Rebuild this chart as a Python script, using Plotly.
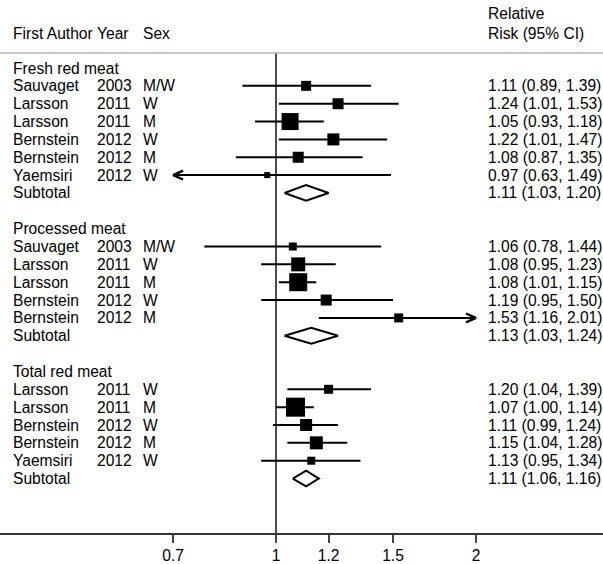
import math
import plotly.graph_objects as go

# ---------------- data ----------------
groups = ["Fresh red meat", "Processed meat", "Total red meat"]
authors = [
    ["Sauvaget", "Larsson", "Larsson", "Bernstein", "Bernstein", "Yaemsiri"],
    ["Sauvaget", "Larsson", "Larsson", "Bernstein", "Bernstein"],
    ["Larsson", "Larsson", "Bernstein", "Bernstein", "Yaemsiri"],
]
years = [
    ["2003", "2011", "2011", "2012", "2012", "2012"],
    ["2003", "2011", "2011", "2012", "2012"],
    ["2011", "2011", "2012", "2012", "2012"],
]
sexes = [
    ["M/W", "W", "M", "W", "M", "W"],
    ["M/W", "W", "M", "W", "M"],
    ["W", "M", "W", "M", "W"],
]
rr = [
    [1.11, 1.24, 1.05, 1.22, 1.08, 0.97],
    [1.06, 1.08, 1.08, 1.19, 1.53],
    [1.20, 1.07, 1.11, 1.15, 1.13],
]
ci_lo = [
    [0.89, 1.01, 0.93, 1.01, 0.87, 0.63],
    [0.78, 0.95, 1.01, 0.95, 1.16],
    [1.04, 1.00, 0.99, 1.04, 0.95],
]
ci_hi = [
    [1.39, 1.53, 1.18, 1.47, 1.35, 1.49],
    [1.44, 1.23, 1.15, 1.50, 2.01],
    [1.39, 1.14, 1.24, 1.28, 1.34],
]
sub_rr = [1.11, 1.13, 1.11]
sub_lo = [1.03, 1.03, 1.06]
sub_hi = [1.20, 1.24, 1.16]
tick_vals = [0.7, 1, 1.2, 1.5, 2]
tick_labels = ["0.7", "1", "1.2", "1.5", "2"]
x_min, x_max = 0.7, 2.0

# ---------------- style ----------------
box_size = [
    [10, 11, 17, 12, 11, 6],
    [8, 14, 18, 11, 9],
    [9, 19, 12, 13, 8],
]
W, H = 603, 564
FONT = "Liberation Sans, Arial, sans-serif"
FS = 15.6
col_author, col_year, col_sex, col_rr = 11, 95, 141, 486
arrow_len = 1.0353      # multiplicative (log) length of arrowhead
arrow_half = 0.25       # rows
dia_half = 0.44         # rows
LW = 2.0

fig = go.Figure()
ann = []


def txt(x_px, y, s):
    ann.append(dict(x=x_px / W, y=y, xref="paper", yref="y", text=s,
                    showarrow=False, xanchor="left", yanchor="middle",
                    font=dict(family=FONT, size=FS, color="black")))


def fmt(e, l, h):
    return f"{e:.2f} ({l:.2f}, {h:.2f})"


row = 0
for g in range(len(groups)):
    txt(col_author, row, groups[g])
    row += 1
    for k in range(len(authors[g])):
        e, l, h = rr[g][k], ci_lo[g][k], ci_hi[g][k]
        l_c, h_c = max(l, x_min), min(h, x_max)
        fig.add_trace(go.Scatter(x=[l_c, h_c], y=[row, row], mode="lines",
                                 line=dict(color="black", width=LW),
                                 hoverinfo="skip", showlegend=False))
        if l < x_min:
            fig.add_trace(go.Scatter(
                x=[l_c * arrow_len, l_c, l_c * arrow_len],
                y=[row - arrow_half, row, row + arrow_half], mode="lines",
                line=dict(color="black", width=2.3), showlegend=False,
                hoverinfo="skip"))
        if h > x_max:
            fig.add_trace(go.Scatter(
                x=[h_c / arrow_len, h_c, h_c / arrow_len],
                y=[row - arrow_half, row, row + arrow_half], mode="lines",
                line=dict(color="black", width=2.3), showlegend=False,
                hoverinfo="skip"))
        fig.add_trace(go.Scatter(x=[e], y=[row], mode="markers",
                                 marker=dict(symbol="square", size=box_size[g][k],
                                             color="black", line=dict(width=0)),
                                 showlegend=False))
        txt(col_author, row, authors[g][k])
        txt(col_year, row, years[g][k])
        txt(col_sex, row, sexes[g][k])
        txt(col_rr, row, fmt(e, l, h))
        row += 1
    e, l, h = sub_rr[g], sub_lo[g], sub_hi[g]
    fig.add_trace(go.Scatter(x=[l, e, h, e, l],
                             y=[row, row - dia_half, row, row + dia_half, row],
                             mode="lines", fill="toself", fillcolor="white",
                             line=dict(color="black", width=LW),
                             showlegend=False))
    txt(col_author, row, "Subtotal")
    txt(col_rr, row, fmt(e, l, h))
    row += 2

y_top, y_bot = -3.81, 26.05
sep_y = -0.84

# header
txt(col_author, -1.96, "First Author")
txt(col_year, -1.96, "Year")
txt(col_sex, -1.96, "Sex")
txt(col_rr, -3.03, "Relative")
txt(col_rr, -1.96, "Risk (95% CI)")

# reference line at RR = 1
fig.add_trace(go.Scatter(x=[1, 1], y=[sep_y, y_bot], mode="lines",
                         line=dict(color="black", width=1.4),
                         hoverinfo="skip", showlegend=False))

shapes = [dict(type="line", xref="paper", yref="y", x0=0, x1=1, y0=sep_y, y1=sep_y,
               line=dict(color="#b4b4b4", width=1.5))]

# x axis: log scale, pixel-matched
x0_log = math.log10(1) - 276 / 664.3
x1_log = math.log10(1) + (W - 276) / 664.3

fig.update_layout(
    width=W, height=H, template="none",
    margin=dict(l=0, r=0, t=0, b=31, pad=0),
    paper_bgcolor="white", plot_bgcolor="white",
    annotations=ann, shapes=shapes, showlegend=False,
    font=dict(family=FONT, size=FS, color="black"),
    xaxis=dict(type="log", range=[x0_log, x1_log], domain=[0, 1],
               tickvals=tick_vals, ticktext=tick_labels,
               showgrid=False, zeroline=False, showline=True,
               linecolor="#333333", linewidth=1.5, ticks="outside",
               ticklen=8, tickcolor="#444444", tickwidth=1.6,
               tickfont=dict(family=FONT, size=FS, color="black"),
               automargin=False, fixedrange=True),
    yaxis=dict(range=[y_bot, y_top], showgrid=False, zeroline=False,
               showline=False, showticklabels=False, ticks="",
               automargin=False, fixedrange=True),
)

fig.write_html("out.html", config={"displayModeBar": False},
               post_script="document.body.style.margin='0';"
                           "document.body.style.padding='0';"
                           "document.body.style.overflow='hidden';")
